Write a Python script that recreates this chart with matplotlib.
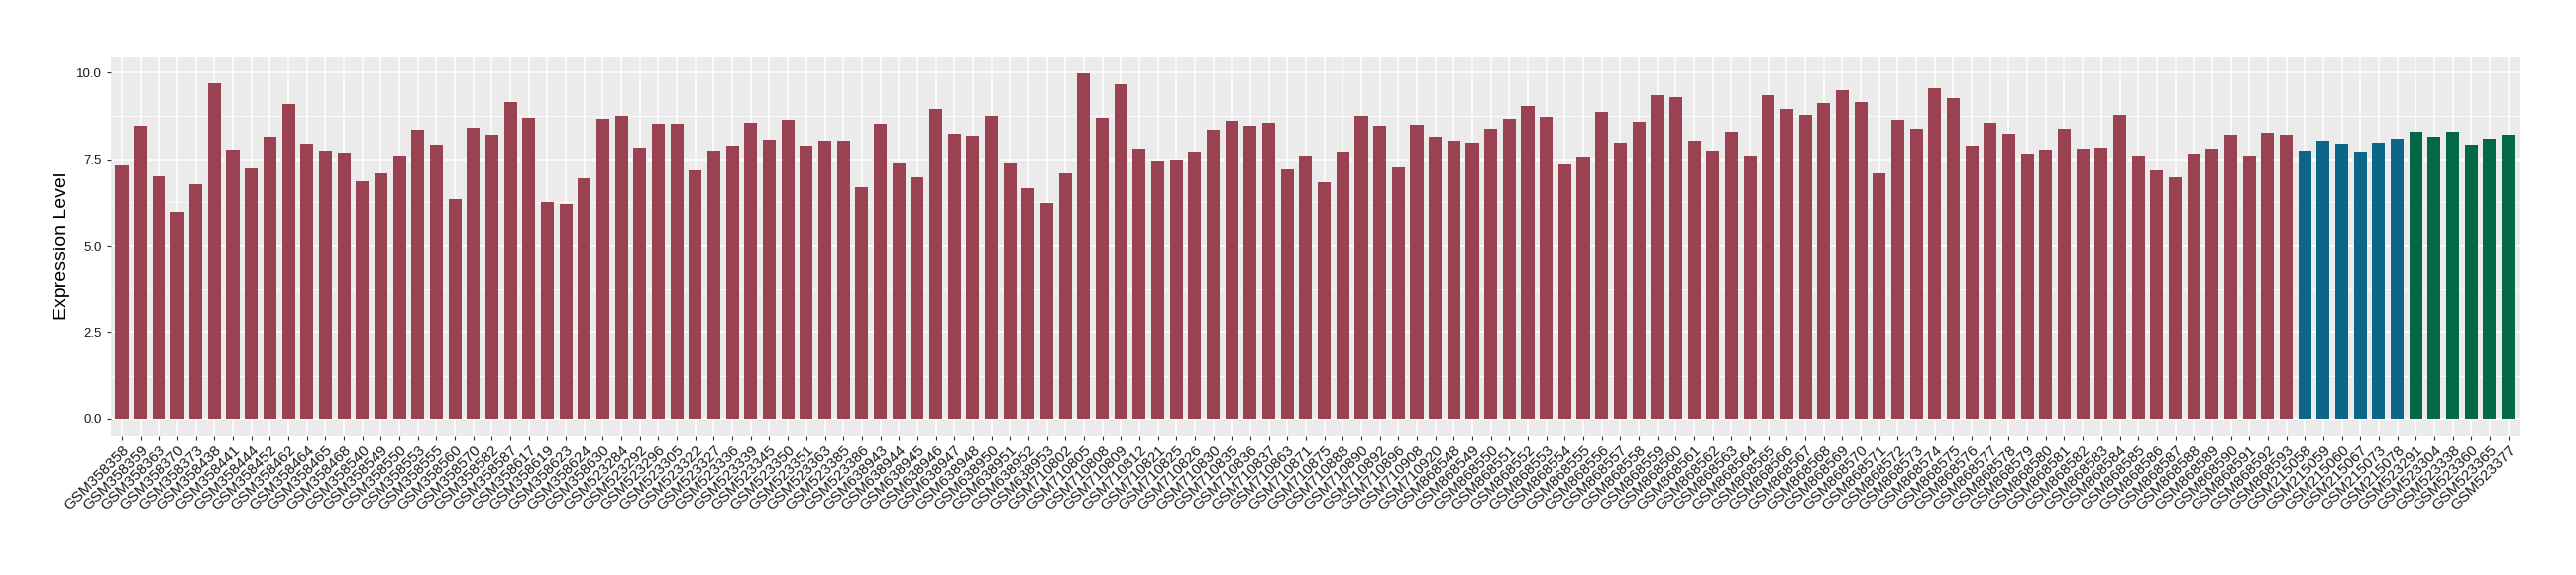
import matplotlib
matplotlib.use("Agg")
import matplotlib.pyplot as plt
import numpy as np

# samples per group
group1_samples = [
    "GSM358358", "GSM358359", "GSM358363", "GSM358370", "GSM358373", "GSM358438",
    "GSM358441", "GSM358444", "GSM358452", "GSM358462", "GSM358464", "GSM358465",
    "GSM358468", "GSM358540", "GSM358549", "GSM358550", "GSM358553", "GSM358555",
    "GSM358560", "GSM358570", "GSM358582", "GSM358587", "GSM358617", "GSM358619",
    "GSM358623", "GSM358624", "GSM358630", "GSM523284", "GSM523292", "GSM523296",
    "GSM523305", "GSM523322", "GSM523327", "GSM523336", "GSM523339", "GSM523345",
    "GSM523350", "GSM523351", "GSM523363", "GSM523385", "GSM523386", "GSM638943",
    "GSM638944", "GSM638945", "GSM638946", "GSM638947", "GSM638948", "GSM638950",
    "GSM638951", "GSM638952", "GSM638953", "GSM710802", "GSM710805", "GSM710808",
    "GSM710809", "GSM710812", "GSM710821", "GSM710825", "GSM710826", "GSM710830",
    "GSM710835", "GSM710836", "GSM710837", "GSM710863", "GSM710871", "GSM710875",
    "GSM710888", "GSM710890", "GSM710892", "GSM710896", "GSM710908", "GSM710920",
    "GSM868548", "GSM868549", "GSM868550", "GSM868551", "GSM868552", "GSM868553",
    "GSM868554", "GSM868555", "GSM868556", "GSM868557", "GSM868558", "GSM868559",
    "GSM868560", "GSM868561", "GSM868562", "GSM868563", "GSM868564", "GSM868565",
    "GSM868566", "GSM868567", "GSM868568", "GSM868569", "GSM868570", "GSM868571",
    "GSM868572", "GSM868573", "GSM868574", "GSM868575", "GSM868576", "GSM868577",
    "GSM868578", "GSM868579", "GSM868580", "GSM868581", "GSM868582", "GSM868583",
    "GSM868584", "GSM868585", "GSM868586", "GSM868587", "GSM868588", "GSM868589",
    "GSM868590", "GSM868591", "GSM868592", "GSM868593",
]
group1_values = [
    7.35, 8.46, 7.00, 5.97, 6.77, 9.69, 7.79, 7.26, 8.15, 9.09, 7.95, 7.75,
    7.69, 6.86, 7.12, 7.61, 8.35, 7.92, 6.35, 8.41, 8.21, 9.15, 8.69, 6.26,
    6.20, 6.95, 8.66, 8.75, 7.83, 8.52, 8.52, 7.20, 7.75, 7.89, 8.55, 8.06,
    8.64, 7.89, 8.03, 8.03, 6.69, 8.52, 7.40, 6.98, 8.95, 8.23, 8.18, 8.75,
    7.40, 6.66, 6.23, 7.09, 9.98, 8.69, 9.67, 7.81, 7.46, 7.49, 7.72, 8.35,
    8.61, 8.46, 8.55, 7.23, 7.61, 6.83, 7.72, 8.75, 8.46, 7.29, 8.49, 8.15,
    8.03, 7.98, 8.38, 8.66, 9.04, 8.72, 7.38, 7.58, 8.86, 7.98, 8.58, 9.35,
    9.29, 8.03, 7.75, 8.29, 7.61, 9.35, 8.95, 8.78, 9.12, 9.49, 9.15, 7.09,
    8.64, 8.38, 9.55, 9.27, 7.89, 8.55, 8.23, 7.66, 7.78, 8.38, 7.81, 7.83,
    8.78, 7.61, 7.20, 6.98, 7.66, 7.81, 8.21, 7.61, 8.26, 8.21,
]
group2_samples = ["GSM215058", "GSM215059", "GSM215060", "GSM215067", "GSM215073", "GSM215078"]
group2_values = [7.75, 8.03, 7.95, 7.72, 7.98, 8.09]
group3_samples = ["GSM523291", "GSM523304", "GSM523338", "GSM523360", "GSM523365", "GSM523377"]
group3_values = [8.29, 8.15, 8.29, 7.92, 8.09, 8.21]

group_colors = ["#9A4252", "#0B6687", "#036848"]

plt.rcParams['font.family'] = ['Liberation Sans', 'DejaVu Sans']

samples = group1_samples + group2_samples + group3_samples
values = group1_values + group2_values + group3_values
colors = ([group_colors[0]] * len(group1_samples) + [group_colors[1]] * len(group2_samples)
          + [group_colors[2]] * len(group3_samples))
x = np.arange(len(samples))

fig = plt.figure(figsize=(26, 5.8), dpi=100)
ax = fig.add_axes([0.043, 0.2414, 0.935, 0.6606])
ax.set_facecolor("#EBEBEB")

ax.bar(x, values, width=0.7, color=colors, zorder=3)

ax.set_xlim(-0.6, len(samples) - 0.4)
ax.set_ylim(-0.499, 10.477)
ax.set_yticks([0, 2.5, 5, 7.5, 10])
ax.set_yticklabels(["0.0", "2.5", "5.0", "7.5", "10.0"])
ax.set_yticks([1.25, 3.75, 6.25, 8.75], minor=True)
ax.set_xticks(x)
ax.set_xticklabels(samples, rotation=45, ha="right", va="top", rotation_mode="anchor")

ax.grid(which="major", color="white", linewidth=1.1, zorder=1)
ax.grid(which="minor", axis="y", color="white", linewidth=0.55, zorder=1)
for s in ax.spines.values():
    s.set_visible(False)

ax.tick_params(axis="both", which="major", length=3, color="#333333", width=0.8,
               labelcolor="#1a1a1a")
ax.tick_params(axis="y", which="major", labelsize=9.5)
ax.tick_params(axis="x", which="major", labelsize=11, pad=2)
ax.tick_params(axis="y", which="minor", length=0)

ax.set_ylabel("Expression Level", fontsize=14, labelpad=4)

fig.savefig("out.png", dpi=100)
